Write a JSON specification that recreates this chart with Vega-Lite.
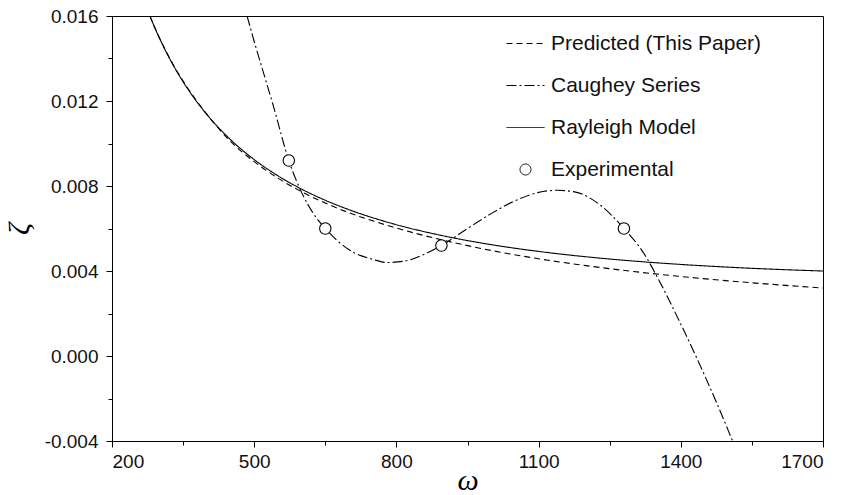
{
  "$schema": "https://vega.github.io/schema/vega-lite/v6.json",
  "width": 711,
  "height": 425,
  "autosize": {"type": "none"},
  "padding": {"left": 112, "top": 16, "right": 31, "bottom": 54},
  "background": "white",
  "config": {
    "view": {"stroke": "black", "strokeWidth": 1},
    "font": "Liberation Sans",
    "axis": {
      "grid": false,
      "domainColor": "black",
      "domainWidth": 1,
      "tickColor": "black",
      "tickWidth": 1,
      "labelFont": "Liberation Sans",
      "labelFontSize": 19,
      "labelColor": "#111",
      "titleFont": "Liberation Serif",
      "titleFontStyle": "italic",
      "titleFontWeight": "normal",
      "titleFontSize": 30,
      "titleColor": "black"
    }
  },
  "datasets": {
    "curves": [
      {"series": "Predicted (This Paper)", "w": 280, "z": 0.0160},
      {"series": "Predicted (This Paper)", "w": 290, "z": 0.015473},
      {"series": "Predicted (This Paper)", "w": 300, "z": 0.014979},
      {"series": "Predicted (This Paper)", "w": 325, "z": 0.013879},
      {"series": "Predicted (This Paper)", "w": 350, "z": 0.012936},
      {"series": "Predicted (This Paper)", "w": 375, "z": 0.012119},
      {"series": "Predicted (This Paper)", "w": 400, "z": 0.011380},
      {"series": "Predicted (This Paper)", "w": 450, "z": 0.010100},
      {"series": "Predicted (This Paper)", "w": 500, "z": 0.009150},
      {"series": "Predicted (This Paper)", "w": 550, "z": 0.008370},
      {"series": "Predicted (This Paper)", "w": 600, "z": 0.007730},
      {"series": "Predicted (This Paper)", "w": 650, "z": 0.007200},
      {"series": "Predicted (This Paper)", "w": 700, "z": 0.006740},
      {"series": "Predicted (This Paper)", "w": 750, "z": 0.006360},
      {"series": "Predicted (This Paper)", "w": 800, "z": 0.006020},
      {"series": "Predicted (This Paper)", "w": 900, "z": 0.005444},
      {"series": "Predicted (This Paper)", "w": 1000, "z": 0.004967},
      {"series": "Predicted (This Paper)", "w": 1100, "z": 0.004577},
      {"series": "Predicted (This Paper)", "w": 1200, "z": 0.004252},
      {"series": "Predicted (This Paper)", "w": 1300, "z": 0.003977},
      {"series": "Predicted (This Paper)", "w": 1400, "z": 0.003741},
      {"series": "Predicted (This Paper)", "w": 1500, "z": 0.003537},
      {"series": "Predicted (This Paper)", "w": 1600, "z": 0.003358},
      {"series": "Predicted (This Paper)", "w": 1700, "z": 0.003200},
      {"series": "Caughey Series", "w": 485, "z": 0.0160},
      {"series": "Caughey Series", "w": 500, "z": 0.0148},
      {"series": "Caughey Series", "w": 520, "z": 0.0133},
      {"series": "Caughey Series", "w": 540, "z": 0.0118},
      {"series": "Caughey Series", "w": 573, "z": 0.0092},
      {"series": "Caughey Series", "w": 600, "z": 0.0077},
      {"series": "Caughey Series", "w": 625, "z": 0.0067},
      {"series": "Caughey Series", "w": 650, "z": 0.0060},
      {"series": "Caughey Series", "w": 700, "z": 0.0050},
      {"series": "Caughey Series", "w": 750, "z": 0.00455},
      {"series": "Caughey Series", "w": 780, "z": 0.0044},
      {"series": "Caughey Series", "w": 820, "z": 0.00448},
      {"series": "Caughey Series", "w": 860, "z": 0.0048},
      {"series": "Caughey Series", "w": 895, "z": 0.0052},
      {"series": "Caughey Series", "w": 950, "z": 0.0060},
      {"series": "Caughey Series", "w": 1000, "z": 0.0067},
      {"series": "Caughey Series", "w": 1050, "z": 0.0073},
      {"series": "Caughey Series", "w": 1100, "z": 0.0077},
      {"series": "Caughey Series", "w": 1140, "z": 0.0078},
      {"series": "Caughey Series", "w": 1180, "z": 0.0077},
      {"series": "Caughey Series", "w": 1230, "z": 0.0071},
      {"series": "Caughey Series", "w": 1280, "z": 0.0060},
      {"series": "Caughey Series", "w": 1320, "z": 0.0049},
      {"series": "Caughey Series", "w": 1360, "z": 0.0033},
      {"series": "Caughey Series", "w": 1400, "z": 0.0015},
      {"series": "Caughey Series", "w": 1450, "z": -0.0009},
      {"series": "Caughey Series", "w": 1500, "z": -0.0035},
      {"series": "Caughey Series", "w": 1520, "z": -0.0046},
      {"series": "Rayleigh Model", "w": 280, "z": 0.0160},
      {"series": "Rayleigh Model", "w": 290, "z": 0.015463},
      {"series": "Rayleigh Model", "w": 300, "z": 0.014965},
      {"series": "Rayleigh Model", "w": 325, "z": 0.013853},
      {"series": "Rayleigh Model", "w": 350, "z": 0.012903},
      {"series": "Rayleigh Model", "w": 375, "z": 0.012083},
      {"series": "Rayleigh Model", "w": 400, "z": 0.011368},
      {"series": "Rayleigh Model", "w": 450, "z": 0.010182},
      {"series": "Rayleigh Model", "w": 500, "z": 0.009243},
      {"series": "Rayleigh Model", "w": 550, "z": 0.008481},
      {"series": "Rayleigh Model", "w": 600, "z": 0.007853},
      {"series": "Rayleigh Model", "w": 650, "z": 0.007328},
      {"series": "Rayleigh Model", "w": 700, "z": 0.006885},
      {"series": "Rayleigh Model", "w": 750, "z": 0.006506},
      {"series": "Rayleigh Model", "w": 800, "z": 0.006179},
      {"series": "Rayleigh Model", "w": 900, "z": 0.005649},
      {"series": "Rayleigh Model", "w": 1000, "z": 0.005240},
      {"series": "Rayleigh Model", "w": 1100, "z": 0.004922},
      {"series": "Rayleigh Model", "w": 1200, "z": 0.004669},
      {"series": "Rayleigh Model", "w": 1300, "z": 0.004469},
      {"series": "Rayleigh Model", "w": 1400, "z": 0.004309},
      {"series": "Rayleigh Model", "w": 1500, "z": 0.004181},
      {"series": "Rayleigh Model", "w": 1600, "z": 0.004079},
      {"series": "Rayleigh Model", "w": 1700, "z": 0.004000}
    ],
    "exp": [
      {"w": 573, "z": 0.0092},
      {"w": 650, "z": 0.0060},
      {"w": 895, "z": 0.0052},
      {"w": 1280, "z": 0.0060}
    ]
  },
  "layer": [
    {
      "data": {"name": "curves"},
      "mark": {"type": "line", "clip": true, "color": "black", "strokeWidth": 1.1, "interpolate": "monotone"},
      "encoding": {
        "x": {
          "field": "w", "type": "quantitative",
          "scale": {"domain": [200, 1700], "nice": false, "zero": false},
          "axis": {
            "title": "ω",
            "values": [200, 350, 500, 650, 800, 950, 1100, 1250, 1400, 1550, 1700],
            "labelExpr": "(datum.value - 200) % 300 === 0 ? datum.label : ''",
            "format": "d",
            "tickSize": {"condition": {"test": "(datum.value - 200) % 300 === 0", "value": 6}, "value": 4},
            "labelPadding": 5,
            "titleBaseline": "alphabetic",
            "titleY": 48
          }
        },
        "y": {
          "field": "z", "type": "quantitative",
          "scale": {"domain": [-0.004, 0.016], "nice": false, "zero": false},
          "axis": {
            "title": "ζ",
            "titleAngle": 270,
            "values": [-0.004, -0.002, 0, 0.002, 0.004, 0.006, 0.008, 0.010, 0.012, 0.014, 0.016],
            "labelExpr": "abs(round(datum.value * 1000)) % 4 === 0 ? replace(format(datum.value, '.3f'), '\u2212', '-') : ''",
            "tickSize": {"condition": {"test": "abs(round(datum.value * 1000)) % 4 === 0", "value": 6}, "value": 4},
            "labelPadding": 8,
            "titlePadding": 10
          }
        },
        "strokeDash": {
          "field": "series", "type": "nominal",
          "scale": {
            "domain": ["Predicted (This Paper)", "Caughey Series", "Rayleigh Model", "Experimental"],
            "range": [[6, 4], [10, 3, 2, 3], [1, 0], [1, 0]]
          },
          "legend": {
            "title": null,
            "orient": "none",
            "legendX": 394,
            "legendY": 8,
            "padding": 0,
            "symbolType": "stroke",
            "symbolSize": 1444,
            "symbolStrokeWidth": 1,
            "symbolStrokeColor": "black",
            "labelFont": "Liberation Sans",
            "labelFontSize": 21,
            "labelColor": "#111",
            "labelLimit": 0,
            "labelOffset": 6,
            "rowPadding": 12,
            "encode": {
              "symbols": {
                "update": {
                  "shape": {"signal": "datum.value === 'Experimental' ? 'circle' : 'stroke'"},
                  "size": {"signal": "datum.value === 'Experimental' ? 120 : 1444"},
                  "fill": {"signal": "datum.value === 'Experimental' ? 'white' : 'transparent'"},
                  "stroke": {"value": "black"},
                  "strokeWidth": {"value": 1},
                  "opacity": {"value": 1},
                  "strokeDash": {"scale": "strokeDash", "field": "value"}
                }
              }
            }
          }
        }
      }
    },
    {
      "data": {"name": "exp"},
      "mark": {"type": "point", "shape": "circle", "filled": true, "fill": "white", "stroke": "black", "strokeWidth": 1.1, "size": 130, "opacity": 1},
      "encoding": {
        "x": {"field": "w", "type": "quantitative"},
        "y": {"field": "z", "type": "quantitative"}
      }
    }
  ]
}
